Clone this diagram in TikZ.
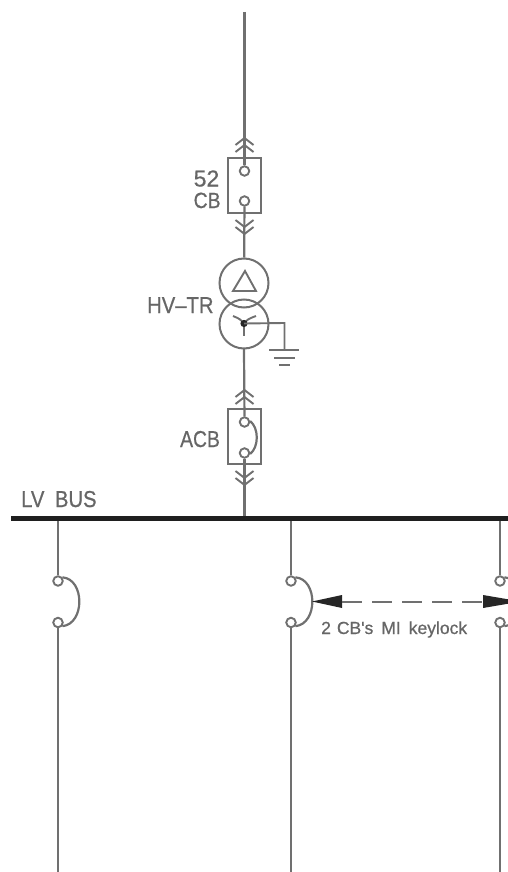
\documentclass[tikz,border=0pt]{standalone}
\usepackage{fontspec}
\setmainfont{Liberation Sans}
\newfontfamily\lblf[FakeBold=0.7]{Liberation Sans}
\usetikzlibrary{calc}
\definecolor{ln}{HTML}{707070}
\definecolor{tx}{HTML}{666666}
\tikzset{
  wire/.style={draw=ln,line width=2.2pt},
  thin wire/.style={draw=ln,line width=1.9pt},
  contact/.style={circle,draw=ln,line width=1.9pt,fill=white,minimum size=9.5pt,inner sep=0pt},
  winding/.style={circle,draw=ln,line width=2pt,minimum size=49pt,inner sep=0pt},
  breaker/.style={rectangle,draw=ln,line width=1.9pt,minimum width=33pt,minimum height=55pt,inner sep=0pt},
  lbl/.style={text=tx,inner sep=0pt,anchor=base west},
  chev/.style={draw=ln,line width=1.9pt,line join=miter}
}
\newcommand{\chevup}[2]{\draw[chev] (#1-9,#2+7) -- (#1,#2) -- (#1+9,#2+7);\draw[chev] (#1-9,#2+14) -- (#1,#2+7) -- (#1+9,#2+14);}
\newcommand{\chevdown}[2]{\draw[chev] (#1-9,#2-7) -- (#1,#2) -- (#1+9,#2-7);\draw[chev] (#1-9,#2-14) -- (#1,#2-7) -- (#1+9,#2-14);}
\begin{document}
\begin{tikzpicture}[x=1pt,y=-1pt]
\useasboundingbox (0,0) rectangle (508,872);
\clip (0,0) rectangle (508,872);
% nodes
\coordinate (top) at (244.5,12);
\node[breaker] (cb) at (244.5,185.5) {};
\node[winding] (delta) at (244,283) {};
\node[winding] (star) at (244,324) {};
\node[breaker] (acb) at (244.5,436.5) {};
\coordinate (busL) at (11,518.5);
\coordinate (busR) at (510,518.5);
\coordinate (busM) at (244.5,518);
\coordinate (f1) at (58,518);
\coordinate (f2) at (291,518);
\coordinate (f3) at (500,518);
\coordinate (e1) at (58,872);
\coordinate (e2) at (291,872);
\coordinate (e3) at (500,872);
\node[contact] (cbA) at (244.5,171) {};
\node[contact] (cbB) at (244.5,201) {};
\node[contact] (acbA) at (244.5,422) {};
\node[contact] (acbB) at (244.5,453) {};
\node[contact] (c1a) at (58,581) {};
\node[contact] (c1b) at (58,622.5) {};
\node[contact] (c2a) at (291,581) {};
\node[contact] (c2b) at (291,622.5) {};
\node[contact] (c3a) at (500,581) {};
\node[contact] (c3b) at (500,622.5) {};
% wires
\draw[wire] (top) -- (cbA);
\draw[wire] (cbB) -- (delta);
\draw[wire] (star) ++(0,24.5) -- (acbA);
\draw[wire] (acbB) -- (busM);
\draw[wire] (f1) -- (c1a);
\draw[wire] (c1b) -- (e1);
\draw[wire] (f2) -- (c2a);
\draw[wire] (c2b) -- (e2);
\draw[wire] (f3) -- (c3a);
\draw[wire] (c3b) -- (e3);
% chevrons
\chevup{244.5}{138}
\chevdown{244.5}{234}
\chevup{244.5}{390}
\chevdown{244.5}{485}
% breaker arcs
\draw[wire] (acbA.10) .. controls (259,428) and (259,447) .. (acbB.-10);
\draw[wire] (c1a.40) .. controls (85,579) and (85,624) .. (c1b.-40);
\draw[wire] (c2a.40) .. controls (318,579) and (318,624) .. (c2b.-40);
\draw[wire] (c3a.40) .. controls (527,579) and (527,624) .. (c3b.-40);
% transformer
\coordinate (t1) at (245,271);
\coordinate (t2) at (233,291);
\coordinate (t3) at (256,291);
\draw[thin wire,line join=miter] (t1) -- (t2) -- (t3) -- cycle;
\coordinate (n) at (244,323.5);
\draw[thin wire] (n) .. controls (240,319) .. (233,316);
\draw[thin wire] (n) .. controls (248,319) .. (256,316);
\draw[thin wire] (n) -- (244,336);
\fill[black!85] (n) circle (3.6);
\coordinate (g1) at (284.5,323);
\coordinate (g2) at (284.5,350);
\draw[thin wire] (n) -- (g1) -- (g2);
\coordinate (ga) at (269,350); \coordinate (gb) at (299,350);
\coordinate (gc) at (274,358); \coordinate (gd) at (295,358);
\coordinate (ge) at (279,365); \coordinate (gf) at (290,365);
\draw[thin wire] (ga) -- (gb);
\draw[thin wire] (gc) -- (gd);
\draw[thin wire] (ge) -- (gf);
% bus
\draw[draw=black!88,line width=5.5pt] (busL) -- (busR);
% keylock
\coordinate (k1) at (312,601.5);
\coordinate (k2) at (342,601.5);
\coordinate (k3) at (483,601.5);
\coordinate (k4) at (521,601.5);
\fill[black!85] (k1) -- (342,595) -- (342,608) -- cycle;
\fill[black!85] (k4) -- (483,595) -- (483,608) -- cycle;
\draw[draw=ln,line width=2pt,dash pattern=on 20pt off 10pt] (k2) -- (k3);
% labels
\node[lbl,font=\lblf\fontsize{23}{23}\selectfont,xscale=1] (l52) at (193.5,186.5) {52};
\node[lbl,font=\lblf\fontsize{22}{22}\selectfont,xscale=.88] (lcb) at (193.5,208) {CB};
\node[lbl,font=\lblf\fontsize{23}{23}\selectfont,xscale=.88] (lhv) at (147,313) {HV–TR};
\node[lbl,font=\lblf\fontsize{23}{23}\selectfont,xscale=.84] (lacb) at (180,447) {ACB};
\node[lbl,font=\lblf\fontsize{23}{23}\selectfont,xscale=.88] (lbus) at (21,507) {LV\hspace{12pt}BUS};
\node[lbl,font=\lblf\fontsize{17.5}{17.5}\selectfont,xscale=1] (lkey) at (321,634) {2\hspace{6pt}CB's\hspace{8pt}MI\hspace{8pt}keylock};
\end{tikzpicture}
\end{document}
